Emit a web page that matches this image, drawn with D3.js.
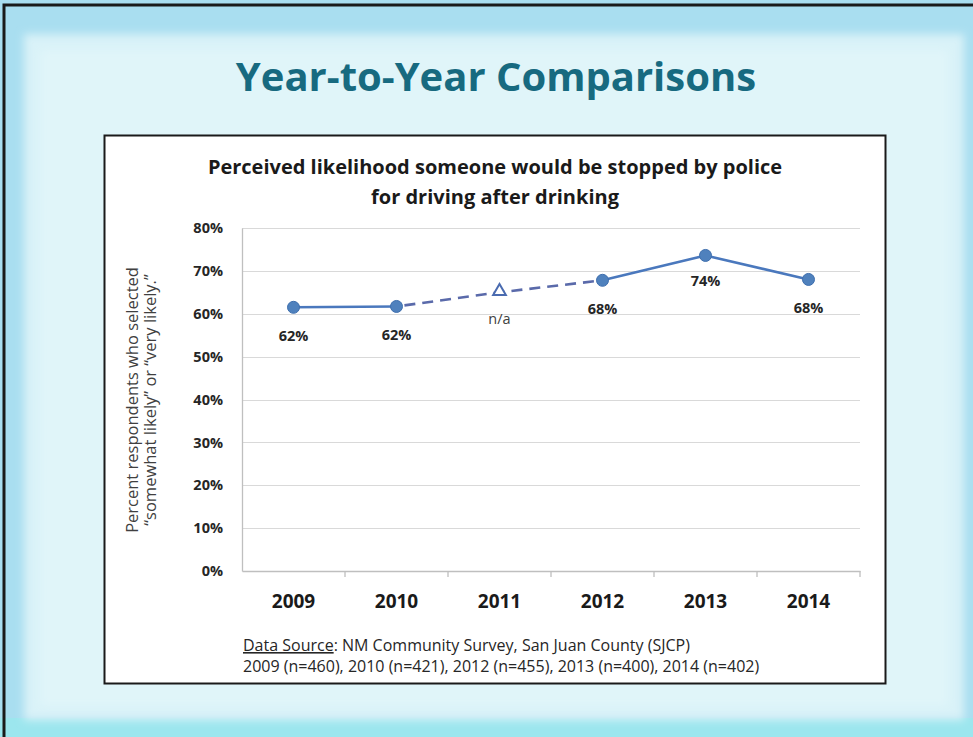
<!DOCTYPE html>
<html>
<head>
<meta charset="utf-8">
<script src="https://cdn.jsdelivr.net/npm/d3@7"></script>
<style>
  html, body { margin: 0; padding: 0; background: #a9def0; }
  svg { display: block; }
</style>
</head>
<body>
<svg id="slide" width="973" height="737"></svg>
<script>
// Survey years and share of respondents (percent) who thought a stop was likely
const years = ["2009", "2010", "2011", "2012", "2013", "2014"];
const values = [61.5, 61.7, 65.0, 67.8, 73.6, 68.0];
// 2011 had no survey: its point is only a placeholder on the bridging line
const measured = [true, true, false, true, true, true];
const yTicks = [0, 10, 20, 30, 40, 50, 60, 70, 80];
const sourceLines = [
  "NM Community Survey, San Juan County (SJCP)",
  "2009 (n=460), 2010 (n=421), 2012 (n=455), 2013 (n=400), 2014 (n=402)"
];

const svg = d3.select("#slide");
const W = 973, H = 737;
const font = "'Open Sans', 'Noto Sans', sans-serif";

// ---- slide background ----
const defs = svg.append("defs");
const blur = defs.append("filter").attr("id", "soft").attr("x", "-5%").attr("y", "-5%")
  .attr("width", "110%").attr("height", "110%");
blur.append("feGaussianBlur").attr("stdDeviation", 4);

svg.append("rect").attr("x", 0).attr("y", 0).attr("width", W).attr("height", H).attr("fill", "#a9def0");
svg.append("rect").attr("x", 0).attr("y", 718).attr("width", W).attr("height", H - 718).attr("fill", "#9ce6ee");
svg.append("rect").attr("x", 24).attr("y", 34).attr("width", 940).attr("height", 686)
  .attr("fill", "#d9f2f8").attr("filter", "url(#soft)");
svg.append("rect").attr("x", 40).attr("y", 50).attr("width", 908).attr("height", 656)
  .attr("fill", "#e0f5f9").attr("filter", "url(#soft)");
// dark frame on the left and top edges
svg.append("path").attr("d", "M4,737 V5 H973").attr("fill", "none")
  .attr("stroke", "#1a1a1a").attr("stroke-width", 3);

// slide heading
svg.append("text").attr("x", 496).attr("y", 91).attr("text-anchor", "middle")
  .attr("font-family", font).attr("font-weight", 700).attr("font-size", 40)
  .attr("fill", "#176a80").text("Year-to-Year Comparisons");

// ---- chart box ----
svg.append("rect").attr("x", 104.5).attr("y", 135.5).attr("width", 781).attr("height", 548)
  .attr("fill", "#ffffff").attr("stroke", "#1a1a1a").attr("stroke-width", 2);

[["Perceived likelihood someone would be stopped by police", 174],
 ["for driving after drinking", 204]].forEach(([t, py]) => {
  svg.append("text").attr("x", 495).attr("y", py).attr("text-anchor", "middle")
    .attr("font-family", font).attr("font-weight", 700).attr("font-size", 20)
    .attr("fill", "#1a1a1a").text(t);
});

// ---- scales ----
const plot = { left: 242, right: 860, top: 228, bottom: 571 };
const x = d3.scaleBand().domain(years).range([plot.left, plot.right]);
const y = d3.scaleLinear().domain([0, 80]).range([plot.bottom, plot.top]);
const cx = d => x(d) + x.bandwidth() / 2;

const g = svg.append("g");

// gridlines
g.selectAll("line.grid").data(yTicks.filter(t => t > 0)).join("line")
  .attr("class", "grid")
  .attr("x1", plot.left).attr("x2", plot.right)
  .attr("y1", d => Math.round(y(d)) + 0.5).attr("y2", d => Math.round(y(d)) + 0.5)
  .attr("stroke", "#d9d9d9").attr("stroke-width", 1.2);

// y axis
const yAxis = g.append("g").attr("transform", `translate(${plot.left},0)`)
  .call(d3.axisLeft(y).tickValues(yTicks).tickSize(0).tickPadding(19).tickFormat(d => d + "%"));
yAxis.select(".domain").attr("stroke", "#bfbfbf").attr("stroke-width", 1.3);
yAxis.selectAll("text").attr("font-family", font).attr("font-weight", 700)
  .attr("font-size", 14.5).attr("fill", "#262626");

// x axis with tick marks at category boundaries
const xAxis = g.append("g").attr("transform", `translate(0,${plot.bottom})`)
  .call(d3.axisBottom(x).tickSize(0).tickPadding(24));
xAxis.select(".domain").attr("stroke", "#bfbfbf").attr("stroke-width", 1.3);
xAxis.selectAll("text").attr("font-family", font).attr("font-weight", 700)
  .attr("font-size", 19).attr("fill", "#1a1a1a");
g.selectAll("line.xtick").data(years.slice(1).concat(["end"])).join("line")
  .attr("class", "xtick")
  .attr("x1", d => d === "end" ? plot.right : x(d)).attr("x2", d => d === "end" ? plot.right : x(d))
  .attr("y1", plot.bottom).attr("y2", plot.bottom + 6)
  .attr("stroke", "#bfbfbf").attr("stroke-width", 1.3);

// y axis title (two rotated lines)
[["Percent respondents who selected", 138], ["\u201csomewhat likely\u201d or \u201cvery likely.\u201d", 156]]
  .forEach(([t, px]) => {
    svg.append("text").attr("transform", `translate(${px},400) rotate(-90)`)
      .attr("text-anchor", "middle").attr("font-family", font).attr("font-size", 16.5)
      .attr("fill", "#404040").text(t);
  });

// ---- series ----
const pts = years.map((yr, i) => ({ yr, v: values[i], ok: measured[i] }));
const line = d3.line().x(d => cx(d.yr)).y(d => y(d.v));
const blue = "#4a78bd";

// solid segments between surveyed years
[[0, 1], [3, 5]].forEach(([a, b]) => {
  g.append("path").datum(pts.slice(a, b + 1)).attr("d", line)
    .attr("fill", "none").attr("stroke", blue).attr("stroke-width", 2.6)
    .attr("stroke-linejoin", "round");
});
// dashed bridge across the missing year
g.append("path").datum(pts.slice(1, 4)).attr("d", line)
  .attr("fill", "none").attr("stroke", "#5a6aaa").attr("stroke-width", 2.6)
  .attr("stroke-dasharray", "11,7").attr("stroke-dashoffset", -8);

// markers
g.selectAll("circle.pt").data(pts.filter(d => d.ok)).join("circle")
  .attr("class", "pt").attr("cx", d => cx(d.yr)).attr("cy", d => y(d.v)).attr("r", 6)
  .attr("fill", "#4f81bd").attr("stroke", "#3f6fae").attr("stroke-width", 1);
g.selectAll("path.na").data(pts.filter(d => !d.ok)).join("path")
  .attr("class", "na")
  .attr("d", d3.symbol().type(d3.symbolTriangle).size(70))
  .attr("transform", d => `translate(${cx(d.yr)},${y(d.v) - 1})`)
  .attr("fill", "#ffffff").attr("stroke", "#4a6bb0").attr("stroke-width", 2);

// data labels
g.selectAll("text.lbl").data(pts).join("text")
  .attr("class", "lbl")
  .attr("x", d => cx(d.yr))
  .attr("y", (d, i) => y(d.v) + (i === 4 ? 31 : d.ok ? 34 : 32))
  .attr("text-anchor", "middle").attr("font-family", font)
  .attr("font-weight", d => d.ok ? 700 : 400).attr("font-size", 14.5)
  .attr("fill", d => d.ok ? "#262626" : "#404040")
  .text(d => d.ok ? Math.round(d.v) + "%" : "n/a");

// ---- source note ----
const src1 = svg.append("text").attr("x", 243).attr("y", 651)
  .attr("font-family", font).attr("font-size", 16).attr("fill", "#262626");
src1.append("tspan").attr("text-decoration", "underline").text("Data Source");
src1.append("tspan").text(": " + sourceLines[0]);
svg.append("text").attr("x", 243).attr("y", 672)
  .attr("font-family", font).attr("font-size", 16).attr("fill", "#262626")
  .text(sourceLines[1]);
</script>
</body>
</html>
